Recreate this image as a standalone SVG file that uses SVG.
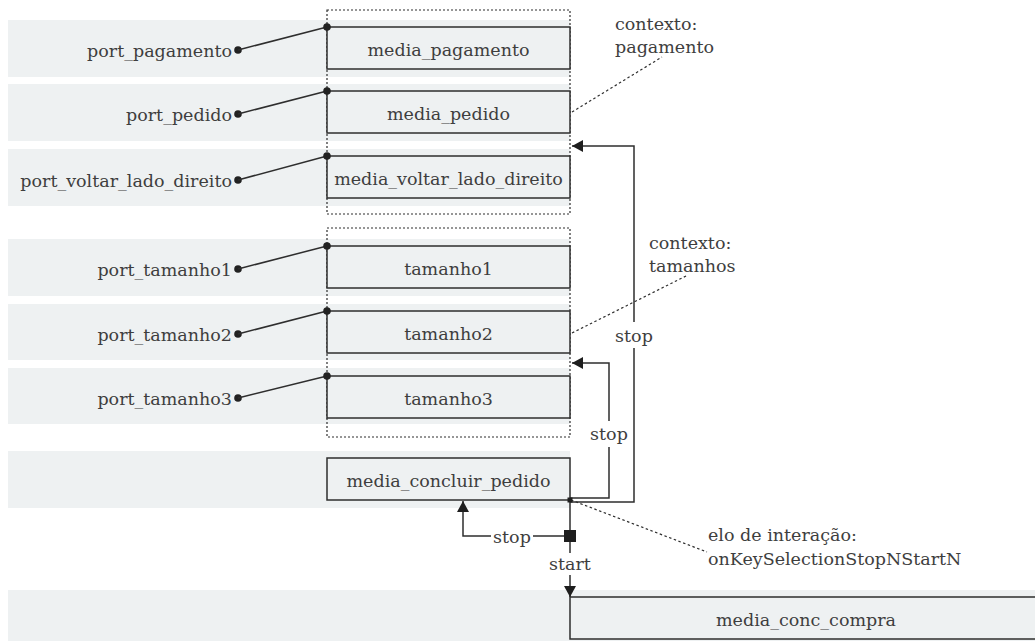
<svg xmlns="http://www.w3.org/2000/svg" width="1035" height="641" viewBox="0 0 1035 641">
  <defs>
    <style>
      .lane { fill: #eef1f2; }
      .box { fill: #eef1f2; stroke: #2e2e2e; stroke-width: 1.5; }
      .ctx { fill: none; stroke: #2e2e2e; stroke-width: 1.2; stroke-dasharray: 2 2; }
      .lbl { font-family: "DejaVu Serif", "Liberation Serif", serif; font-size: 17.5px; fill: #3e3e3e; }
      .mid { text-anchor: middle; }
      .end { text-anchor: end; }
      .wire { fill: none; stroke: #2e2e2e; stroke-width: 1.5; }
      .note { fill: none; stroke: #2e2e2e; stroke-width: 1.2; stroke-dasharray: 2.5 2.5; }
      .dot { fill: #222; }
      .gap { fill: #ffffff; }
    </style>
    <marker id="arrow" markerWidth="12" markerHeight="12" refX="11" refY="6" orient="auto" markerUnits="userSpaceOnUse">
      <path d="M0,0 L11,6 L0,12 Z" fill="#1e1e1e"/>
    </marker>
  </defs>

  <!-- lanes -->
  <g id="lanes">
    <rect class="lane" x="8" y="20" width="562" height="57"/>
    <rect class="lane" x="8" y="84" width="562" height="57"/>
    <rect class="lane" x="8" y="149" width="562" height="57"/>
    <rect class="lane" x="8" y="239" width="562" height="57"/>
    <rect class="lane" x="8" y="304" width="562" height="56"/>
    <rect class="lane" x="8" y="368" width="562" height="56"/>
    <rect class="lane" x="8" y="451" width="562" height="57"/>
    <rect class="lane" x="8" y="590" width="1027" height="51"/>
  </g>

  <!-- contexts -->
  <g id="ctx_pagamento">
    <rect class="ctx" x="327" y="10" width="243" height="204"/>
  </g>
  <g id="ctx_tamanhos">
    <rect class="ctx" x="327" y="228" width="243" height="209"/>
  </g>

  <!-- media nodes -->
  <g id="media_pagamento">
    <rect class="box" x="327" y="27" width="243" height="42"/>
    <text class="lbl mid" x="448.5" y="56">media_pagamento</text>
  </g>
  <g id="media_pedido">
    <rect class="box" x="327" y="91" width="243" height="42"/>
    <text class="lbl mid" x="448.5" y="120">media_pedido</text>
  </g>
  <g id="media_voltar_lado_direito">
    <rect class="box" x="327" y="156" width="243" height="42"/>
    <text class="lbl mid" x="448.5" y="185">media_voltar_lado_direito</text>
  </g>
  <g id="tamanho1">
    <rect class="box" x="327" y="246" width="243" height="42"/>
    <text class="lbl mid" x="448.5" y="275">tamanho1</text>
  </g>
  <g id="tamanho2">
    <rect class="box" x="327" y="311" width="243" height="42"/>
    <text class="lbl mid" x="448.5" y="340">tamanho2</text>
  </g>
  <g id="tamanho3">
    <rect class="box" x="327" y="376" width="243" height="42"/>
    <text class="lbl mid" x="448.5" y="405">tamanho3</text>
  </g>
  <g id="media_concluir_pedido">
    <rect class="box" x="327" y="458" width="243" height="42"/>
    <text class="lbl mid" x="448.5" y="487">media_concluir_pedido</text>
  </g>
  <g id="media_conc_compra">
    <rect class="box" x="570" y="597" width="480" height="42"/>
    <text class="lbl mid" x="806" y="626">media_conc_compra</text>
  </g>

  <!-- ports -->
  <g id="port_pagamento">
    <text class="lbl end" x="232" y="57">port_pagamento</text>
    <circle class="dot" cx="238" cy="50" r="3.8"/>
  </g>
  <g id="port_pedido">
    <text class="lbl end" x="232" y="121">port_pedido</text>
    <circle class="dot" cx="238" cy="114" r="3.8"/>
  </g>
  <g id="port_voltar_lado_direito">
    <text class="lbl end" x="232" y="187">port_voltar_lado_direito</text>
    <circle class="dot" cx="238" cy="180" r="3.8"/>
  </g>
  <g id="port_tamanho1">
    <text class="lbl end" x="232" y="276">port_tamanho1</text>
    <circle class="dot" cx="238" cy="269" r="3.8"/>
  </g>
  <g id="port_tamanho2">
    <text class="lbl end" x="232" y="341">port_tamanho2</text>
    <circle class="dot" cx="238" cy="334" r="3.8"/>
  </g>
  <g id="port_tamanho3">
    <text class="lbl end" x="232" y="405">port_tamanho3</text>
    <circle class="dot" cx="238" cy="398" r="3.8"/>
  </g>

  <!-- annotations -->
  <g id="note_pagamento">
    <text class="lbl" x="615" y="30">contexto:</text>
    <text class="lbl" x="615" y="53">pagamento</text>
  </g>
  <g id="note_tamanhos">
    <text class="lbl" x="649" y="249">contexto:</text>
    <text class="lbl" x="649" y="272">tamanhos</text>
  </g>
  <g id="note_elo">
    <text class="lbl" x="708" y="541">elo de interação:</text>
    <text class="lbl" x="708" y="565">onKeySelectionStopNStartN</text>
  </g>

  <!-- connectors -->
  <g id="connectors">
    <!-- port mappings -->
    <line class="wire" x1="238" y1="50" x2="327" y2="27"/>
    <circle class="dot" cx="327" cy="27" r="3.8"/>
    <line class="wire" x1="238" y1="114" x2="327" y2="91"/>
    <circle class="dot" cx="327" cy="91" r="3.8"/>
    <line class="wire" x1="238" y1="180" x2="327" y2="156"/>
    <circle class="dot" cx="327" cy="156" r="3.8"/>
    <line class="wire" x1="238" y1="269" x2="327" y2="246"/>
    <circle class="dot" cx="327" cy="246" r="3.8"/>
    <line class="wire" x1="238" y1="334" x2="327" y2="311"/>
    <circle class="dot" cx="327" cy="311" r="3.8"/>
    <line class="wire" x1="238" y1="398" x2="327" y2="376"/>
    <circle class="dot" cx="327" cy="376" r="3.8"/>

    <!-- annotation leaders -->
    <line class="note" x1="572" y1="112" x2="662" y2="57"/>
    <line class="note" x1="572" y1="333" x2="688" y2="275"/>
    <line class="note" x1="571" y1="500" x2="707" y2="552"/>

    <!-- stop: pagamento context -->
    <polyline class="wire" points="570,502 634,502 634,146 572,146" marker-end="url(#arrow)"/>
    <!-- stop: tamanhos context -->
    <polyline class="wire" points="570,498 609,498 609,363 572,363" marker-end="url(#arrow)"/>
    <rect class="gap" x="615" y="322" width="38" height="26"/>
    <text class="lbl mid" x="634" y="342">stop</text>
    <rect class="gap" x="590" y="421" width="38" height="26"/>
    <text class="lbl mid" x="609" y="440">stop</text>

    <!-- start / stop bind -->
    <line class="wire" x1="570" y1="500" x2="570" y2="597" marker-end="url(#arrow)"/>
    <polyline class="wire" points="570,536 463,536 463,501" marker-end="url(#arrow)"/>
    <rect class="gap" x="491" y="525" width="42" height="22"/>
    <text class="lbl mid" x="512" y="543">stop</text>
    <rect class="gap" x="548" y="553" width="44" height="22"/>
    <text class="lbl mid" x="570" y="570">start</text>
    <rect x="567.5" y="497.5" width="5" height="5" fill="#1e1e1e"/>
    <rect x="564" y="530" width="12" height="12" fill="#1e1e1e"/>
  </g>
</svg>
